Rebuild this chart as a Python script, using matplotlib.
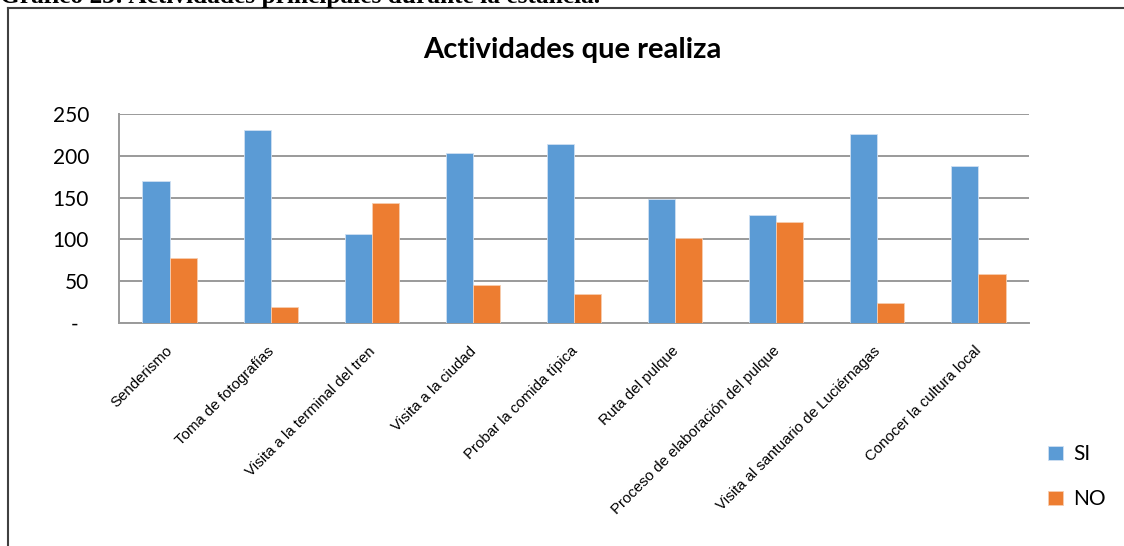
import matplotlib.pyplot as plt
from matplotlib.lines import Line2D
import matplotlib.transforms as mtransforms
import numpy as np

actividades = ["Senderismo", "Toma de fotografías", "Visita a la terminal del tren",
               "Visita a la ciudad", "Probar la comida típica", "Ruta del pulque",
               "Proceso de elaboración del pulque", "Visita al santuario de Luciérnagas",
               "Conocer la cultura local"]
si = [170, 231, 107, 203, 214, 148, 129, 226, 188]
no = [78, 19, 144, 46, 35, 102, 121, 24, 59]
yticks = [0, 50, 100, 150, 200, 250]
ylabels = ["-  ", "50", "100", "150", "200", "250"]

W, H = 1124, 546
fig = plt.figure(figsize=(W / 100, H / 100), dpi=100)

# caption above the chart box (cut off at the top in the original)
fig.text(0.0, 1 - 3 / H, "Gráfico 23: Actividades principales durante la estancia.",
         family="Liberation Serif", weight="bold", fontsize=18.3, va="baseline", ha="left")

# chart box border (left and top edges visible)
fig.add_artist(Line2D([7.5 / W, 7.5 / W], [0, 1 - 8 / H], transform=fig.transFigure,
                      color="#404040", lw=1.5))
fig.add_artist(Line2D([7.5 / W, 1], [1 - 8 / H, 1 - 8 / H], transform=fig.transFigure,
                      color="#404040", lw=1.5))

ax = fig.add_axes([119 / W, 1 - 323 / H, (1029 - 119) / W, (323 - 114) / H])
x = np.arange(len(actividades))
bw = 0.268
ax.bar(x - bw / 2, si, bw, color="#5B9BD5", edgecolor="#cfe0f2", lw=0.6, label="SI", zorder=3)
ax.bar(x + bw / 2, no, bw, color="#ED7D31", edgecolor="#f7cdb0", lw=0.6, label="NO", zorder=3)

ax.set_xlim(-0.5, len(actividades) - 0.5)
ax.set_ylim(0, 250)
ax.set_yticks(yticks)
ax.set_yticklabels(ylabels, family="Lato", fontsize=15)
ax.tick_params(axis="y", length=0, pad=21.5)
ax.set_xticks(x)
ax.set_xticklabels(actividades, rotation=45, ha="right", va="top", rotation_mode="anchor",
                   family="Liberation Sans", fontsize=10.8)
ax.tick_params(axis="x", length=0, pad=15)
shift = mtransforms.ScaledTranslation(-4 / 100, 0, fig.dpi_scale_trans)
for lab in ax.get_xticklabels():
    lab.set_transform(lab.get_transform() + shift)
ax.grid(axis="y", color="#9a9a9a", lw=1.4, zorder=0)
for s in ["top", "right"]:
    ax.spines[s].set_visible(False)
ax.spines["left"].set_color("#9a9a9a")
ax.spines["bottom"].set_color("#9a9a9a")
ax.spines["left"].set_linewidth(1.4)
ax.spines["bottom"].set_linewidth(1.4)

fig.text(572 / W, 1 - 58 / H, "Actividades que realiza", family="Lato", weight="bold",
         fontsize=21, ha="center", va="baseline")

fig.legend(loc="upper left", bbox_to_anchor=(1040 / W, 1 - 436 / H), frameon=False,
           prop={"family": "Lato", "size": 15}, handlelength=0.7, handleheight=0.7,
           handletextpad=0.5, labelspacing=1.2, borderaxespad=0)

fig.savefig("out.png", dpi=100)
